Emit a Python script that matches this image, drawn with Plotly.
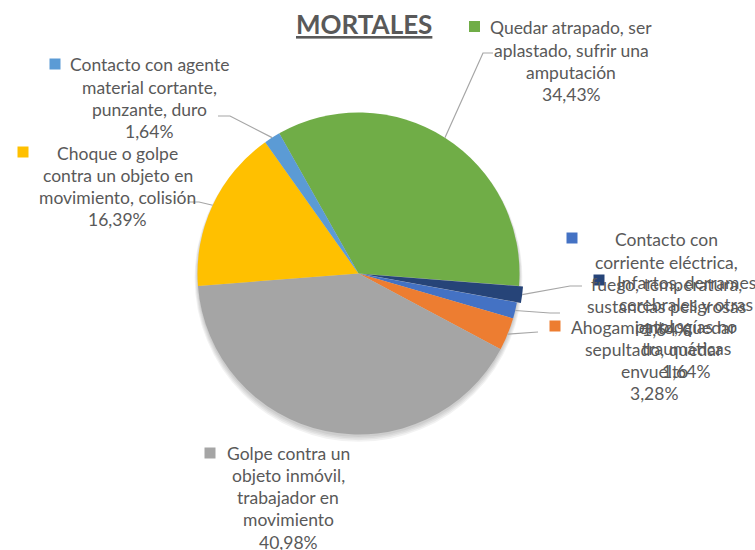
import math
import plotly.graph_objects as go

W, H = 755, 550

# ---- data -------------------------------------------------------------
categories = [
    "Quedar atrapado, ser\naplastado, sufrir una\namputación",
    "Infartos, derrames\ncerebrales y otras\npatologías no\ntraumáticas",
    "Contacto con\ncorriente eléctrica,\nfuego, temperatura,\nsustancias peligrosas",
    "Ahogamiento, quedar\nsepultado, quedar\nenvuelto",
    "Golpe contra un\nobjeto inmóvil,\ntrabajador en\nmovimiento",
    "Choque o golpe\ncontra un objeto en\nmovimiento, colisión",
    "Contacto con agente\nmaterial cortante,\npunzante, duro",
]
deaths = [21, 1, 1, 2, 25, 10, 1]
colors = ["#70AD47", "#264478", "#4472C4", "#ED7D31", "#A5A5A5", "#FFC000", "#5B9BD5"]
pulls = [0, 0.025, 0, 0, 0, 0, 0]

# ---- layout (pixel units) ----------------------------------------------
CX, CY, R = 358.5, 273.5, 161.0
ROTATION = -29.5
TEXT_COLOR = "#595959"
LINE_COLOR = "#A6A6A6"
FONT = "Lato"
FS = 17.5
LINE_H = 22.3

# per slice: text centre x, first-line y, legend key centre, leader bend points
label_pos = [
    dict(cx=571, y0=28, key=(474.5, 26.5), leader=[(483, 53), (493, 53)]),
    dict(cx=686, y0=282, key=(599, 280), leader=[(570, 286), (582, 286)]),
    dict(cx=666, y0=240, key=(572, 238), leader=[(550, 313), (560, 313)]),
    dict(cx=654, y0=327, key=(555, 326), leader=[(538, 332)]),
    dict(cx=288, y0=453, key=(210, 453), leader=None),
    dict(cx=118, y0=153, key=(23, 152), leader=[(199, 202), (189, 202)]),
    dict(cx=149, y0=65, key=(55, 64), leader=[(230, 116), (218, 116)]),
]


def px(x):
    return x / W


def py(y):
    return 1 - y / H


total = sum(deaths)
pcts = [f"{v / total * 100:.2f}".replace(".", ",") + "%" for v in deaths]

half = R * (1 + max(pulls))
fig = go.Figure(
    go.Pie(
        labels=[c.replace("\n", " ") for c in categories],
        values=deaths,
        sort=False,
        direction="clockwise",
        rotation=ROTATION,
        pull=pulls,
        marker=dict(colors=colors, line=dict(width=0)),
        textinfo="none",
        hoverinfo="label+percent",
        showlegend=False,
        domain=dict(
            x=[px(CX - half), px(CX + half)],
            y=[py(CY + half), py(CY - half)],
        ),
    )
)

shapes = []
annotations = []

# soft drop shadow under the pie
for k in range(4):
    rr = R + 0.5 + k * 0.8
    oy = 2 + k * 0.8
    shapes.append(dict(
        type="circle", xref="paper", yref="paper", layer="below",
        x0=px(CX - rr), x1=px(CX + rr),
        y0=py(CY + oy + rr), y1=py(CY + oy - rr),
        fillcolor="rgba(0,0,0,0.05)", line=dict(width=0),
    ))

# labels, legend keys and leader lines
acc = 0.0
for i, (cat, v) in enumerate(zip(categories, deaths)):
    mid = math.radians(ROTATION + (acc + v / 2) / total * 360)
    acc += v
    pos = label_pos[i]
    lines = cat.split("\n") + [pcts[i]]
    for j, ln in enumerate(lines):
        annotations.append(dict(
            x=px(pos["cx"]), y=py(pos["y0"] + j * LINE_H),
            xref="paper", yref="paper", xanchor="center", yanchor="middle",
            text=ln, showarrow=False,
            font=dict(family=FONT, size=FS, color=TEXT_COLOR),
        ))
    kx, ky = pos["key"]
    shapes.append(dict(
        type="rect", xref="paper", yref="paper",
        x0=px(kx - 5.5), x1=px(kx + 5.5), y0=py(ky + 5.5), y1=py(ky - 5.5),
        fillcolor=colors[i], line=dict(width=0),
    ))
    if pos["leader"]:
        rr = R * (1 + pulls[i])
        sx = CX + rr * math.sin(mid)
        sy = CY - rr * math.cos(mid)
        pts = [(sx, sy)] + pos["leader"]
        path = "M " + " L ".join(f"{px(x):.5f},{py(y):.5f}" for x, y in pts)
        shapes.append(dict(
            type="path", xref="paper", yref="paper", path=path,
            line=dict(color=LINE_COLOR, width=1.2),
        ))

# title
annotations.append(dict(
    x=px(364), y=py(24), xref="paper", yref="paper",
    xanchor="center", yanchor="middle",
    text="<b><u>MORTALES</u></b>", showarrow=False,
    font=dict(family=FONT, size=26, color=TEXT_COLOR),
))

fig.update_layout(
    width=W, height=H,
    margin=dict(l=0, r=0, t=0, b=0),
    paper_bgcolor="white", plot_bgcolor="white",
    shapes=shapes, annotations=annotations,
)

fig.write_html("out.html")
